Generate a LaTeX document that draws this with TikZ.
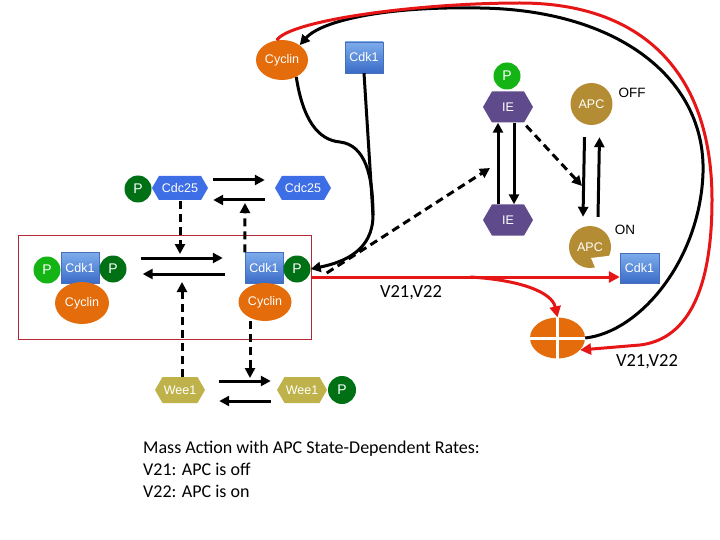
\documentclass[tikz,border=0pt]{standalone}
\usepackage{fontspec}
\setmainfont{Liberation Sans}
\newfontfamily\calfont{Carlito}
\usetikzlibrary{arrows.meta,shapes.geometric,shapes.symbols}
\definecolor{orng}{RGB}{228,108,10}
\definecolor{cdktop}{RGB}{125,172,235}
\definecolor{cdkbot}{RGB}{58,108,200}
\definecolor{cdkedge}{RGB}{70,110,185}
\definecolor{cdcblue}{RGB}{62,110,230}
\definecolor{pbright}{RGB}{20,180,20}
\definecolor{pdark}{RGB}{0,112,20}
\definecolor{apcgold}{RGB}{180,140,52}
\definecolor{iepurp}{RGB}{95,75,139}
\definecolor{weeyel}{RGB}{191,178,74}
\definecolor{redln}{RGB}{230,22,22}
\definecolor{boxred}{RGB}{178,40,55}
\tikzset{
  lab/.style={text=white,font=\fontsize{12.5}{14}\selectfont},
  cyc/.style={ellipse,fill=orng,minimum width=52pt,minimum height=40pt,inner sep=0pt,lab},
  cdk/.style={rectangle,draw=cdkedge,top color=cdktop,bottom color=cdkbot,minimum width=38pt,minimum height=31pt,inner sep=0pt,lab},
  pb/.style={circle,fill=pbright,minimum size=27pt,inner sep=0pt,text=white,font=\fontsize{14}{16}\selectfont},
  pd/.style={pb,fill=pdark},
  hex/.style={signal,signal to=east and west,signal pointer angle=120,inner sep=0pt,lab},
  iehex/.style={hex,fill=iepurp,minimum width=50pt,minimum height=31pt},
  cdchex/.style={hex,fill=cdcblue,minimum width=56pt,minimum height=24pt},
  weehex/.style={hex,fill=weeyel,minimum width=50pt,minimum height=26pt},
  apcc/.style={circle,fill=apcgold,minimum size=42pt,inner sep=0pt,lab},
  blk/.style={line width=3pt,-{Triangle[length=10pt,width=10pt]}},
  blkc/.style={line width=3pt},
  dsh/.style={line width=3pt,dash pattern=on 8pt off 5pt,-{Triangle[length=10pt,width=10pt]}},
  rd/.style={line width=3pt,draw=redln,-{Triangle[length=11pt,width=11pt]}},
  txt/.style={font=\fontsize{13.5}{15}\selectfont},
  vtxt/.style={font=\calfont\fontsize{18.5}{20}\selectfont},
}
\begin{document}
\begin{tikzpicture}[x=1pt,y=-1pt]
\useasboundingbox (0,0) rectangle (720,540);
% red box
\draw[boxred,line width=0.8pt] (18,235) rectangle (311,339);
% top free cyclin / cdk1
\node[cyc] (cyctop) at (282,60) {Cyclin};
\node[cdk] (cdktop) at (364,57.5) {Cdk1};
% IE
\node[pb] (pie) at (507,76) {P};
\node[iehex] (ie1) at (508,107) {IE};
\node[iehex] (ie2) at (508,220) {IE};
% APC
\node[apcc] (apcoff) at (591.5,104) {APC};
\node[txt] (off) at (632,93) {OFF};
\fill[apcgold] (590,247) circle[radius=21];
\fill[white] (591,258) -- (620,254.5) -- (620,286) -- (603,286) -- cycle;
\node[lab,circle,minimum size=42pt,inner sep=0pt] (apcon) at (590,247) {APC};
\node[txt] (on) at (625,230) {ON};
\node[cdk,minimum width=39pt,minimum height=30pt] (cdk3) at (639.5,268) {Cdk1};
% Cdc25
\node[pd] (pcdc) at (138,189) {P};
\node[cdchex] (cdcA) at (180,188) {Cdc25};
\node[cdchex] (cdcB) at (303,188) {Cdc25};
% left complex
\node[cdk] (cdkL) at (80,268) {Cdk1};
\node[pb] (pL1) at (47,270) {P};
\node[pd] (pL2) at (113,269) {P};
\node[cyc,minimum width=54pt,minimum height=42pt] (cycL) at (82,303) {Cyclin};
% right complex
\node[cdk] (cdkR) at (264,268) {Cdk1};
\node[pd] (pcx) at (297,269) {P};
\node[cyc,minimum width=53pt,minimum height=38pt] (cycR) at (265,302) {Cyclin};
% Wee1
\node[weehex] (weeA) at (180,390) {Wee1};
\node[weehex] (weeB) at (302,390) {Wee1};
\node[pd,minimum size=28pt] (pwee) at (342,390) {P};
% degraded cyclin
\node[ellipse,fill=orng,minimum width=55pt,minimum height=41pt,inner sep=0pt] (deg) at (557.5,338) {};
\draw[white,line width=3pt] (deg.north) -- (deg.south);
\draw[white,line width=3pt] (deg.west) -- (deg.east);
% coordinates for arrow tips
\coordinate (merge) at (373,215);
\coordinate (dtip1) at (490,168);
\coordinate (dtip2) at (582,186);
\coordinate (k1) at (180,254);
\coordinate (k2) at (245,203);
\coordinate (k3) at (182,282);
\coordinate (k4) at (250,378);
\coordinate (rbr) at (470,277);
% Cdc25 arrows
\draw[blk] ([shift={(5,-8)}]cdcA.east) -- ([shift={(-10,-8)}]cdcB.west);
\draw[blk] ([shift={(-10,12)}]cdcB.west) -- ([shift={(5,12)}]cdcA.east);
% box arrows
\draw[blk] ([shift={(14,-11)}]pL2.east) -- ([shift={(-22,-10)}]cdkR.west);
\draw[blk] ([shift={(-20,6)}]cdkR.west) -- ([shift={(16,5)}]pL2.east);
% wee1 arrows
\draw[blk] ([shift={(14,-9)}]weeA.east) -- ([shift={(-6,-9)}]weeB.west);
\draw[blk] ([shift={(-6,11)}]weeB.west) -- ([shift={(14,11)}]weeA.east);
% IE arrows
\draw[blk] ([xshift=-10pt]ie2.north) -- ([xshift=-10pt]ie1.south);
\draw[blk] ([xshift=6pt]ie1.south) -- ([xshift=6pt]ie2.north);
% APC arrows
\draw[blk] ([shift={(-7,12)}]apcoff.south) -- ([shift={(-7,-9)}]apcon.north);
\draw[blk] ([shift={(8,-9)}]apcon.north) -- ([shift={(8,12)}]apcoff.south);
% dashed
\draw[dsh] ([yshift=-1pt]cdcA.south) -- (k1);
\draw[dsh] (cdkR.north west) -- (k2);
\draw[dsh] ([xshift=2pt]weeA.north) -- (k3);
\draw[dsh] ([xshift=-15pt]cycR.south) -- (k4);
\draw[dsh] ([shift={(16,4)}]pcx.east) -- (dtip1);
\draw[dsh] ([shift={(2,3)}]ie1.south east) -- (dtip2);
% black curves to complex
\draw[blk] (cyctop.-50) .. controls (303,120) and (318,140) .. (340,142) .. controls (365,145) and (373,175) .. (merge) .. controls (373,250) and (345,262) .. (pcx.east);
\draw[blkc] (cdktop.south) -- (merge);
% red from complex
\draw[rd] ([yshift=-8pt]pcx.east) -- ([yshift=-9pt]cdk3.west);
\draw[rd] (rbr) .. controls (520,280) and (552,292) .. (deg.north);
% black outer
\draw[blk] (deg.east) .. controls (640,332) and (700,260) .. (703,173) .. controls (706,80) and (620,10) .. (480,8) .. controls (380,6) and (320,22) .. (cyctop.40);
% red outer
\draw[rd] (cyctop.105) .. controls (290,20) and (420,3) .. (520,3) .. controls (640,3) and (712,70) .. (712,200) .. controls (712,300) and (682,340) .. (640,345) -- (deg.-28);
% labels
\node[vtxt] (v1) at (411,293) {V21,V22};
\node[vtxt] (v2) at (647,362) {V21,V22};
\node[anchor=base west,align=left,font=\calfont\fontsize{18}{22}\selectfont,inner sep=0pt] (mass) at (143,497) {Mass Action with APC State-Dependent Rates:\\V21: APC is off\\V22: APC is on};
\end{tikzpicture}
\end{document}
